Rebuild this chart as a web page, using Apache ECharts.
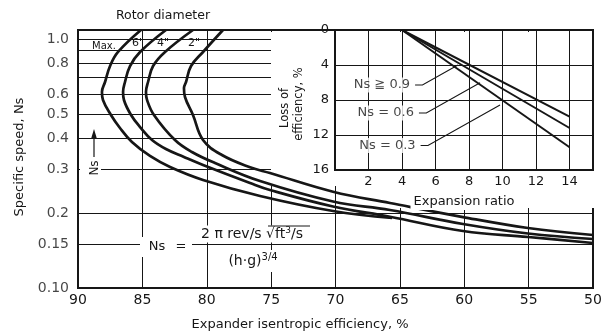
<!DOCTYPE html>
<html><head><meta charset="utf-8">
<script src="https://cdn.jsdelivr.net/npm/echarts@6/dist/echarts.min.js"></script>
<style>html,body{margin:0;padding:0;background:#fff}#c{width:605px;height:336px}</style>
</head><body><div id="c"></div>
<script>
// ---------------- data ----------------
const effGridLines = [85, 80, 75, 70, 65, 60, 55];
const nsLabels = [0.10, 0.15, 0.2, 0.3, 0.4, 0.5, 0.6, 0.8, 1.0];
const nsGridLines = [0.15, 0.2, 0.3, 0.4, 0.5, 0.6, 0.7, 0.8, 0.9, 1.0];
const curveLabels = ['Max.', '6"', '4"', '2"'];
const curveMax = [[85.11,1.087],[86.89,0.887],[87.51,0.779],[87.90,0.672],[88.14,0.6125],[88.06,0.569],[87.44,0.4953],[86.74,0.4391],[85.81,0.3858],[84.41,0.339],[82.85,0.3062],[80.29,0.2716],[75.86,0.2341],[70.19,0.2038],[65.61,0.191]];
const curve6in = [[83.17,1.087],[85.18,0.887],[85.96,0.779],[86.35,0.672],[86.50,0.6125],[86.43,0.569],[85.88,0.4953],[85.18,0.4432],[84.25,0.3929],[83.17,0.3615],[81.77,0.3358],[80.29,0.3119],[76.64,0.2641],[75.09,0.2475],[70.19,0.2125],[65.77,0.1933],[60.1,0.1694],[55.05,0.1603],[50,0.1516]];
const curve4in = [[81.07,1.087],[83.24,0.887],[84.17,0.779],[84.56,0.672],[84.72,0.6125],[84.64,0.5695],[84.10,0.4953],[82.47,0.3929],[81.15,0.3517],[79.36,0.3177],[75.86,0.269],[70.19,0.2226],[65.77,0.2057],[60.1,0.1807],[55.05,0.1655],[50,0.1573]];
const curve2in = [[78.74,1.087],[80.29,0.887],[81.22,0.779],[81.61,0.672],[81.77,0.636],[81.69,0.585],[81.07,0.4953],[80.29,0.3929],[78.82,0.3421],[76.64,0.3055],[75.09,0.2896],[70.19,0.2436],[65.77,0.2194],[60.1,0.1927],[55.05,0.1742],[50,0.1633]];

const ratioTicks = [2, 4, 6, 8, 10, 12, 14];
const lossTicks = [0, 4, 8, 12, 16];
const expansionRatio = [4, 14];
const lossNs09 = [0, 9.9];
const lossNs06 = [0, 11.2];
const lossNs03 = [0, 13.4];
const calloutText = ['Ns \u2267 0.9', 'Ns = 0.6', 'Ns = 0.3'];
const calloutLabelAt = [[4.72, 6.29], [4.95, 9.49], [5.05, 13.2]];
const calloutTarget = [[7.34, 4.0], [8.66, 6.02], [9.85, 8.57]];

// ---------------- chart ----------------
const ink = '#161616';
const FONT = 'DejaVu Sans';
const chart = echarts.init(document.getElementById('c'), null, {renderer: 'canvas'});

const fmtNs = v => v === 0.1 ? '0.10' : (v === 1 ? '1.0' : String(v));
const curves = [curveMax, curve6in, curve4in, curve2in];

const series = [];
series.push({
  type: 'line', xAxisIndex: 0, yAxisIndex: 0, data: [], z: 0, silent: true,
  markLine: {
    z: 0, silent: true, symbol: ['none', 'none'], animation: false,
    label: {show: false},
    lineStyle: {color: ink, width: 1, type: 'solid'},
    data: nsGridLines.map(v => ({yAxis: v})).concat(effGridLines.map(v => ({xAxis: v})))
  }
});
series.push({
  type: 'scatter', xAxisIndex: 0, yAxisIndex: 0, symbolSize: 0, clip: false, silent: true, z: 3,
  data: nsLabels.map(v => [90, v]),
  label: {show: true, position: 'left', distance: 9, formatter: p => fmtNs(p.value[1]),
          fontFamily: FONT, fontSize: 14, color: ink}
});
curves.forEach((c, i) => series.push({
  type: 'line', name: curveLabels[i], xAxisIndex: 0, yAxisIndex: 0, data: c,
  smooth: 0.4, symbol: 'none', showSymbol: false, silent: true, z: 3,
  lineStyle: {color: ink, width: 2.7}
}));
[lossNs09, lossNs06, lossNs03].forEach((l, i) => series.push({
  type: 'line', xAxisIndex: 1, yAxisIndex: 1, z: 6, silent: true,
  data: expansionRatio.map((x, k) => [x, l[k]]), symbol: 'none',
  lineStyle: {color: ink, width: 2}
}));
series.push({
  type: 'lines', coordinateSystem: 'cartesian2d', xAxisIndex: 1, yAxisIndex: 1, polyline: true,
  z: 7, silent: true, symbol: ['none', 'arrow'], symbolSize: 7,
  lineStyle: {color: ink, width: 1.1, opacity: 1},
  data: calloutLabelAt.map((p, i) => ({coords: [[p[0] + 0.06, p[1]], [p[0] + 0.5, p[1]], calloutTarget[i]]}))
});
series.push({
  type: 'scatter', xAxisIndex: 1, yAxisIndex: 1, symbolSize: 0, z: 8, silent: true, clip: false,
  data: calloutLabelAt.map((p, i) => [p[0], p[1], calloutText[i]]),
  label: {show: true, position: 'left', distance: 2, formatter: p => p.value[2],
          fontFamily: FONT, fontSize: 13, color: ink, backgroundColor: '#fff', padding: [1, 2, 1, 2]}
});

const option = {
  animation: false,
  backgroundColor: '#fff',
  grid: [
    {left: 78, top: 30, width: 515, height: 258, show: true, borderColor: ink, borderWidth: 2, backgroundColor: 'transparent'},
    {left: 335, top: 30, width: 258, height: 140, show: true, borderColor: ink, borderWidth: 2, backgroundColor: 'transparent', z: 4}
  ],
  xAxis: [
    {gridIndex: 0, type: 'value', min: 50, max: 90, interval: 5, inverse: true,
     axisLine: {show: true, lineStyle: {color: ink, width: 2}}, axisTick: {show: false}, splitLine: {show: false},
     axisLabel: {fontFamily: FONT, fontSize: 14, color: ink, margin: 5}},
    {gridIndex: 1, type: 'value', min: 0, max: 15.4, interval: 2, z: 4,
     axisLine: {show: true, lineStyle: {color: ink, width: 2}}, axisTick: {show: false},
     splitLine: {show: true, lineStyle: {color: ink, width: 1}},
     axisLabel: {fontFamily: FONT, fontSize: 13, color: ink, margin: 5, showMaxLabel: false,
                 formatter: v => ratioTicks.indexOf(v) >= 0 ? String(v) : ''},
     name: 'Expansion ratio', nameLocation: 'middle', nameGap: 24,
     nameTextStyle: {fontFamily: FONT, fontSize: 13, color: ink, backgroundColor: '#fff', padding: [1, 3, 2, 3]}}
  ],
  yAxis: [
    {gridIndex: 0, type: 'log', logBase: 10, min: 0.1, max: 1.087,
     axisLine: {show: true, lineStyle: {color: ink, width: 2}}, axisTick: {show: false},
     axisLabel: {show: false}, splitLine: {show: false}, minorSplitLine: {show: false}},
    {gridIndex: 1, type: 'value', min: 0, max: 16, interval: 4, inverse: true, z: 4,
     axisLine: {show: true, lineStyle: {color: ink, width: 2}}, axisTick: {show: false},
     splitLine: {show: true, lineStyle: {color: ink, width: 1}},
     axisLabel: {fontFamily: FONT, fontSize: 13, color: ink, margin: 6,
                 formatter: v => lossTicks.indexOf(v) >= 0 ? String(v) : ''}}
  ],
  graphic: [
    {type: 'rect', z: 1, silent: true, shape: {x: 271, y: 32, width: 334, height: 154}, style: {fill: '#fff'}},
    {type: 'rect', z: 1, silent: true, shape: {x: 380, y: 186, width: 225, height: 22}, style: {fill: '#fff'}},
    {type: 'line', z: 2, silent: true, shape: {x1: 268, y1: 30, x2: 313, y2: 30}, style: {stroke: ink, lineWidth: 2}},
    {type: 'text', z: 5, x: 163, y: 16, style: {text: 'Rotor diameter', font: '12.5px "DejaVu Sans"', fill: ink, align: 'center', verticalAlign: 'middle'}},
    {type: 'text', z: 5, x: 104, y: 46, style: {text: curveLabels[0], font: '10px "DejaVu Sans"', fill: ink, align: 'center', verticalAlign: 'middle'}},
    {type: 'text', z: 5, x: 138, y: 43, style: {text: curveLabels[1], font: '11px "DejaVu Sans"', fill: ink, align: 'center', verticalAlign: 'middle'}},
    {type: 'text', z: 5, x: 163, y: 43, style: {text: curveLabels[2], font: '11px "DejaVu Sans"', fill: ink, align: 'center', verticalAlign: 'middle'}},
    {type: 'text', z: 5, x: 194, y: 43, style: {text: curveLabels[3], font: '11px "DejaVu Sans"', fill: ink, align: 'center', verticalAlign: 'middle'}},
    {type: 'text', z: 5, x: 20, y: 157, rotation: Math.PI / 2, style: {text: 'Specific speed, Ns', font: '13px "DejaVu Sans"', fill: ink, align: 'center', verticalAlign: 'middle'}},
    {type: 'text', z: 5, x: 300, y: 325, style: {text: 'Expander isentropic efficiency, %', font: '13px "DejaVu Sans"', fill: ink, align: 'center', verticalAlign: 'middle'}},
    {type: 'text', z: 5, x: 285, y: 108, rotation: Math.PI / 2, style: {text: 'Loss of', font: '11.5px "DejaVu Sans"', fill: ink, align: 'center', verticalAlign: 'middle'}},
    {type: 'text', z: 5, x: 299, y: 104, rotation: Math.PI / 2, style: {text: 'efficiency, %', font: '11.5px "DejaVu Sans"', fill: ink, align: 'center', verticalAlign: 'middle'}},
    {type: 'rect', z: 2, silent: true, shape: {x: 80, y: 158, width: 21, height: 20}, style: {fill: '#fff'}},
    {type: 'line', z: 5, shape: {x1: 94, y1: 157, x2: 94, y2: 136}, style: {stroke: ink, lineWidth: 1.2}},
    {type: 'polygon', z: 5, shape: {points: [[94, 129], [91, 139], [97, 139]]}, style: {fill: ink}},
    {type: 'text', z: 5, x: 95, y: 168, rotation: Math.PI / 2, style: {text: 'Ns', font: '12px "DejaVu Sans"', fill: ink, align: 'center', verticalAlign: 'middle'}},
    {type: 'rect', z: 2, silent: true, shape: {x: 140, y: 237, width: 52, height: 20}, style: {fill: '#fff'}},
    {type: 'text', z: 5, x: 157, y: 247, style: {text: 'Ns', font: '13px "DejaVu Sans"', fill: ink, align: 'center', verticalAlign: 'middle'}},
    {type: 'text', z: 5, x: 181, y: 247, style: {text: '=', font: '13px "DejaVu Sans"', fill: ink, align: 'center', verticalAlign: 'middle'}},
    {type: 'text', z: 5, x: 252, y: 234, style: {
      text: '{n|2 \u03c0 rev/s \u221a}{m|ft}{s|3}{n|/s}', align: 'center', verticalAlign: 'middle',
      backgroundColor: '#fff', padding: [1, 1, 0, 1],
      rich: {n: {font: '14px "DejaVu Sans"', fill: ink, lineHeight: 16}, m: {font: '14px "DejaVu Sans"', fill: ink, lineHeight: 16},
             s: {font: '9px "DejaVu Sans"', fill: ink, verticalAlign: 'top', lineHeight: 16}}}},
    {type: 'line', z: 6, shape: {x1: 268, y1: 226, x2: 310, y2: 226}, style: {stroke: ink, lineWidth: 1}},
    {type: 'text', z: 5, x: 253, y: 261, style: {
      text: '{n|(h\u00b7g)}{s|3/4}', align: 'center', verticalAlign: 'middle',
      backgroundColor: '#fff', padding: [2, 2, 2, 2],
      rich: {n: {font: '14px "DejaVu Sans"', fill: ink, lineHeight: 18}, s: {font: '10px "DejaVu Sans"', fill: ink, verticalAlign: 'top', lineHeight: 18}}}}
  ],
  series: series
};
chart.setOption(option);
</script>
</body></html>
